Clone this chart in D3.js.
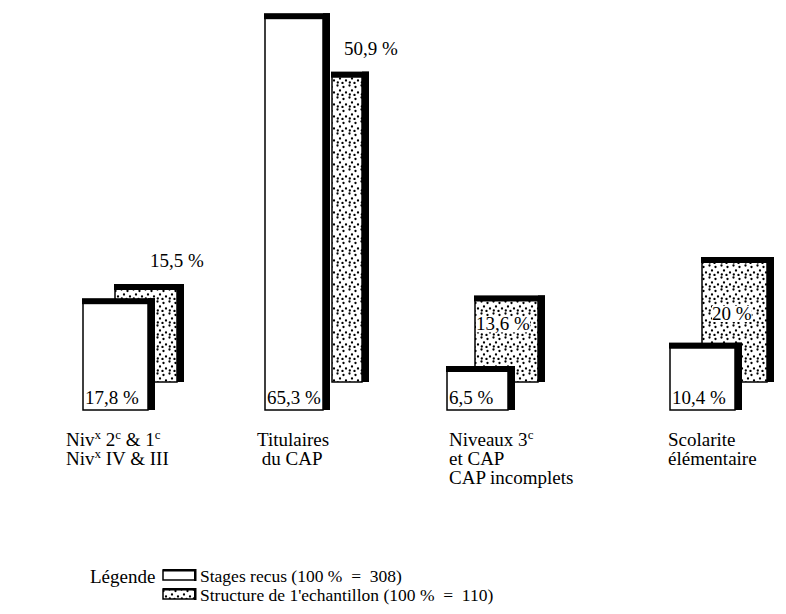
<!DOCTYPE html>
<html><head><meta charset="utf-8">
<script src="https://cdn.jsdelivr.net/npm/d3@7/dist/d3.min.js"></script>
<style>
html,body{margin:0;padding:0;background:#fff;}
</style></head>
<body>
<script>
// ---- data ----
const categories = ["niv", "cap", "niveaux", "scol"];
const categoryLines = [
  [["Niv", "x", " 2", "c", " & 1", "c"], ["Niv", "x", " IV & III"]],
  [["Titulaires"], [" du CAP"]],
  [["Niveaux 3", "c"], ["et CAP"], ["CAP incomplets"]],
  [["Scolarite"], ["élémentaire"]]
];
const stagesRecus = [17.8, 65.3, 6.5, 10.4];
const structure = [15.5, 50.9, 13.6, 20];
const seriesNames = ["Stages recus (100 %  =  308)", "Structure de 1'echantillon (100 %  =  110)"];

// ---- layout ----
const W = 786, H = 614;
const FONT = "Liberation Serif";
const svg = d3.select("body").append("svg").attr("width", W).attr("height", H)
  .style("font-family", FONT);

const defs = svg.append("defs");
const pat = defs.append("pattern").attr("id", "dots").attr("patternUnits", "userSpaceOnUse")
  .attr("width", 12).attr("height", 12);
pat.append("rect").attr("width", 12).attr("height", 12).attr("fill", "#fff");
[[1.5,1.5],[7.5,3],[4,6.5],[10,8.5],[1.8,10.5],[6.5,11]].forEach(p =>
  pat.append("circle").attr("cx", p[0]).attr("cy", p[1]).attr("r", 1.15).attr("fill", "#000"));

const x = d3.scaleOrdinal().domain(categories).range([83, 265, 447, 670]);
const h = d3.scaleLinear().domain([0, 100]).range([0, 600]);
const baseWhite = 410, baseDot = 382;
const whiteW = [65, 58, 61, 65];
const dotDx = [32, 67, 28, 32];
const dotW = [62, 30, 63, 65];
const dotLabelPos = ["above", "above", "top", "middle"];
const aboveDx = [35, 12];

const fmt = v => d3.format(".1f")(v).replace(".0", "").replace(".", ",") + " %";

function bar(g, x0, base, w, hv, fill) {
  const top = base - hv;
  g.append("rect").attr("x", x0).attr("y", top).attr("width", w).attr("height", hv)
    .attr("fill", fill).attr("stroke", "#000").attr("stroke-width", 1.5);
  g.append("rect").attr("x", x0 - 1).attr("y", top - 5).attr("width", w + 8).attr("height", 6).attr("fill", "#000");
  g.append("rect").attr("x", x0 + w).attr("y", top - 5).attr("width", 7).attr("height", hv + 5).attr("fill", "#000");
}

const gBars = svg.append("g");
categories.forEach((c, i) => {
  const g = gBars.append("g");
  const dx = x(c) + dotDx[i];
  const dh = h(structure[i]);
  bar(g, dx, baseDot, dotW[i], dh, "url(#dots)");
  const wh = h(stagesRecus[i]);
  bar(g, x(c), baseWhite, whiteW[i], wh, "#fff");
  g.append("text").attr("x", x(c) + 2).attr("y", baseWhite - 6)
    .style("font-family", FONT).attr("font-size", 19).text(fmt(stagesRecus[i]));
  const pos = dotLabelPos[i];
  let ly, lx;
  if (pos === "above") { ly = baseDot - dh - 22; lx = dx + aboveDx[i]; }
  else if (pos === "top") { ly = baseDot - dh + 30; lx = dx + 1; }
  else { ly = baseDot - dh + 58; lx = dx + 10; }
  const t = g.append("text").attr("x", lx).attr("y", ly).attr("font-size", 19)
    .style("font-family", FONT).text(fmt(structure[i]));
  if (pos !== "above") {
    const bb = t.node().getBBox();
    g.insert("rect", "text:last-of-type").attr("x", bb.x).attr("y", bb.y + 3)
      .attr("width", bb.width).attr("height", bb.height - 5).attr("fill", "#fff");
  }
});

// category labels
const labelX = d3.scaleOrdinal().domain(categories).range([66, 257, 449, 668]);
categories.forEach((c, i) => {
  categoryLines[i].forEach((parts, j) => {
    const t = svg.append("text").attr("x", labelX(c)).attr("y", 446 + j * 19)
      .style("font-family", FONT).attr("font-size", 19).style("white-space", "pre");
    parts.forEach((p, k) => {
      const sup = (parts.length > 1 && k % 2 === 1);
      t.append("tspan").attr("font-size", sup ? 13 : 19)
        .attr("baseline-shift", sup ? "super" : null).text(p);
    });
  });
});

// legend
svg.append("text").attr("x", 90).attr("y", 583).style("font-family", FONT)
  .attr("font-size", 19).text("Légende");
const leg = svg.append("g");
seriesNames.forEach((s, i) => {
  const y0 = 570 + i * 19;
  leg.append("rect").attr("x", 163).attr("y", y0).attr("width", 32).attr("height", 10)
    .attr("fill", i === 0 ? "#fff" : "url(#dots)").attr("stroke", "#000").attr("stroke-width", 1.5);
  leg.append("rect").attr("x", 163).attr("y", y0 - 1).attr("width", 33).attr("height", 2.5).attr("fill", "#000");
  leg.append("rect").attr("x", 194).attr("y", y0 - 1).attr("width", 2.5).attr("height", 12).attr("fill", "#000");
  leg.append("text").attr("x", 200).attr("y", y0 + 12).style("font-family", FONT).attr("font-size", 17.5)
    .style("white-space", "pre").text(s);
});
</script>
</body></html>
